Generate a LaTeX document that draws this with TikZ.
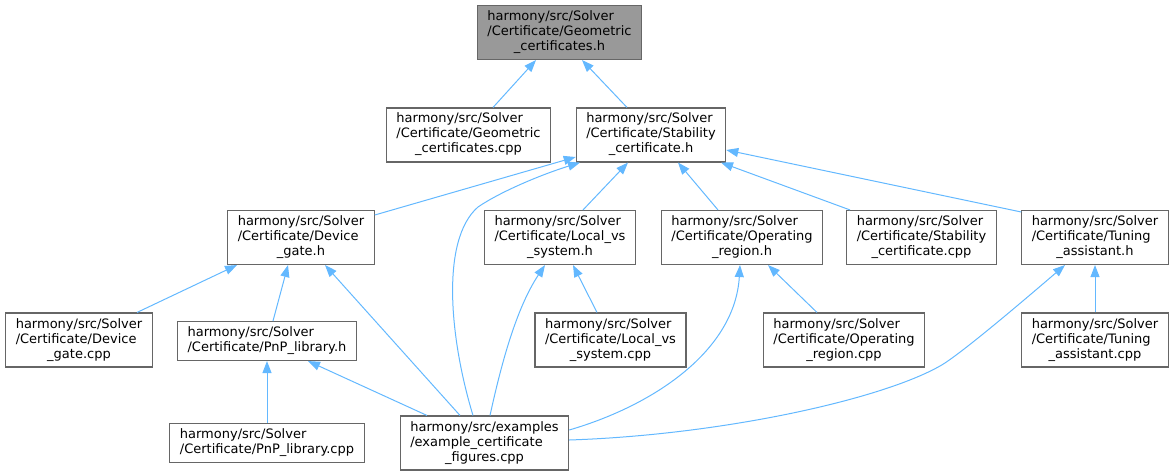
\documentclass[tikz,border=0pt]{standalone}
\usepackage{fontspec}
\setmainfont{DejaVu Sans}
\usetikzlibrary{arrows.meta}

\definecolor{doxedge}{HTML}{63B8FF}
\definecolor{doxborder}{HTML}{666666}
\definecolor{doxroot}{HTML}{999999}

% lines left-aligned, last line centred
\newcommand{\doxlabel}[2]{%
  \begin{tabular}{@{}l@{}}#1\\\multicolumn{1}{@{}c@{}}{#2}\end{tabular}}

\begin{document}
\begin{tikzpicture}[
    x=1pt, y=-1pt,
    font=\fontsize{13}{15}\selectfont,
    % Styles
    file_box/.style={
        draw=doxborder,
        line width=1.1pt,
        fill=white,
        inner xsep=10pt,
        inner ysep=4.5pt
    },
    root_box/.style={
        file_box,
        fill=doxroot
    },
    dep/.style={-{Triangle[length=12pt, width=9pt]}, doxedge, line width=1pt}
]
    \useasboundingbox (0,0) rectangle (1175,476);

    % --- ROOT ---
    \node[root_box] (geomh) at (559.5,32.5) {\doxlabel{harmony/src/Solver\\/Certificate/Geometric}{\_certificates.h}};

    % --- ROW 1 ---
    \node[file_box] (geomcpp) at (468.5,135) {\doxlabel{harmony/src/Solver\\/Certificate/Geometric}{\_certificates.cpp}};
    \node[file_box] (stabh) at (651,135) {\doxlabel{harmony/src/Solver\\/Certificate/Stability}{\_certificate.h}};

    % --- ROW 2 ---
    \node[file_box] (deviceh) at (301,237.5) {\doxlabel{harmony/src/Solver\\/Certificate/Device}{\_gate.h}};
    \node[file_box] (localh) at (560,237.5) {\doxlabel{harmony/src/Solver\\/Certificate/Local\_vs}{\_system.h}};
    \node[file_box] (operh) at (742,237.5) {\doxlabel{harmony/src/Solver\\/Certificate/Operating}{\_region.h}};
    \node[file_box] (stabcpp) at (921.5,237.5) {\doxlabel{harmony/src/Solver\\/Certificate/Stability}{\_certificate.cpp}};
    \node[file_box] (tuneh) at (1095,237.5) {\doxlabel{harmony/src/Solver\\/Certificate/Tuning}{\_assistant.h}};

    % --- ROW 3 ---
    \node[file_box] (devicecpp) at (79,340) {\doxlabel{harmony/src/Solver\\/Certificate/Device}{\_gate.cpp}};
    \node[file_box] (pnph) at (267,341) {\doxlabel{harmony/src/Solver}{/Certificate/PnP\_library.h}};
    \node[file_box] (localcpp) at (610.5,340) {\doxlabel{harmony/src/Solver\\/Certificate/Local\_vs}{\_system.cpp}};
    \node[file_box] (opercpp) at (844,340) {\doxlabel{harmony/src/Solver\\/Certificate/Operating}{\_region.cpp}};
    \node[file_box] (tunecpp) at (1095,340) {\doxlabel{harmony/src/Solver\\/Certificate/Tuning}{\_assistant.cpp}};

    % --- ROW 4 ---
    \node[file_box] (pnpcpp) at (267,443) {\doxlabel{harmony/src/Solver}{/Certificate/PnP\_library.cpp}};
    \node[file_box] (examplecpp) at (484.5,443) {\doxlabel{harmony/src/examples\\/example\_certificate}{\_figures.cpp}};

    % --- ARROWS ---
    \draw[dep] ([xshift=24.5pt]geomcpp.north) -- ([xshift=-23.5pt]geomh.south);
    \draw[dep] ([xshift=-24pt]stabh.north) -- ([xshift=22.5pt]geomh.south);

    \draw[dep] ([yshift=22.5pt]deviceh.east) -- ([yshift=-22pt]stabh.west);
    \draw[dep] ([xshift=-11.5pt]examplecpp.north) .. controls (450,340) and (440,240) .. (478,207)
        .. controls (500,192) and (540,175) .. ([xshift=-71pt]stabh.south);
    \draw[dep] ([xshift=23pt]localh.north) -- ([xshift=-23pt]stabh.south);
    \draw[dep] ([xshift=-24pt]operh.north) -- ([xshift=27pt]stabh.south);
    \draw[dep] ([xshift=-71.5pt]stabcpp.north) -- ([xshift=70pt]stabh.south);
    \draw[dep] ([yshift=25.5pt]tuneh.west) -- ([yshift=-15pt]stabh.east);

    \draw[dep] ([xshift=58pt]devicecpp.north) -- ([xshift=-64pt]deviceh.south);
    \draw[dep] ([xshift=6pt]pnph.north) -- ([xshift=-13pt]deviceh.south);
    \draw[dep] ([xshift=-24.5pt]examplecpp.north) -- ([xshift=24pt]deviceh.south);

    \draw[dep] ([xshift=-13.5pt]localcpp.north) -- ([xshift=13pt]localh.south);
    \draw[dep] ([xshift=5.5pt]examplecpp.north) .. controls (500,370) and (515,310) .. ([xshift=-15pt]localh.south);

    \draw[dep] ([xshift=-27pt]opercpp.north) -- ([xshift=26pt]operh.south);
    \draw[dep] ([yshift=13pt]examplecpp.east) .. controls (655,405) and (735,350) .. ([xshift=-2pt]operh.south);

    \draw[dep] ([yshift=3pt]examplecpp.east) .. controls (720,435) and (880,400) .. (940,366)
        .. controls (960,355) and (1030,295) .. ([xshift=-30pt]tuneh.south);
    \draw[dep] (tunecpp.north) -- (tuneh.south);

    \draw[dep] (pnpcpp.north) -- (pnph.south);
    \draw[dep] ([xshift=-57.5pt]examplecpp.north) -- ([xshift=41pt]pnph.south);

\end{tikzpicture}
\end{document}
